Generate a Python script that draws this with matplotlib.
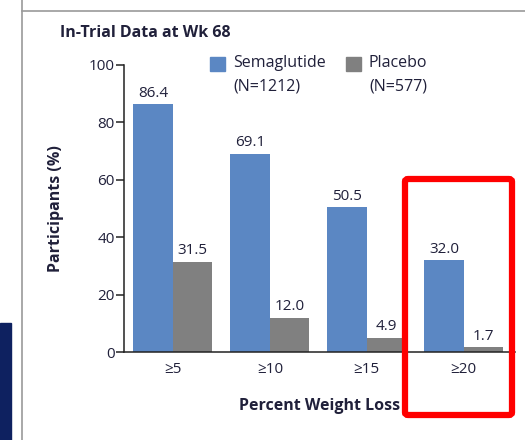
import matplotlib
matplotlib.use("Agg")
import matplotlib.pyplot as plt
from matplotlib.patches import Rectangle, FancyBboxPatch
from matplotlib.lines import Line2D
import numpy as np

categories = ["≥5", "≥10", "≥15", "≥20"]
semaglutide = [86.4, 69.1, 50.5, 32.0]
placebo = [31.5, 12.0, 4.9, 1.7]
sema_label = "Semaglutide\n(N=1212)"
plac_label = "Placebo\n(N=577)"
yticks = [0, 20, 40, 60, 80, 100]

plt.rcParams['font.family'] = ['Open Sans', 'DejaVu Sans']
txt = '#20203a'
blue = '#5b87c3'
gray = '#808080'

W, H = 525, 440
fig = plt.figure(figsize=(W/100, H/100), dpi=100)
fig.patch.set_facecolor('white')

def fx(px): return px / W
def fy(py): return 1 - py / H

ax = fig.add_axes([fx(124), fy(352), fx(515) - fx(124), fy(65) - fy(352)])
x = np.arange(len(categories))
bw = 0.407
b1 = ax.bar(x - bw/2, semaglutide, bw, color=blue, label=sema_label)
b2 = ax.bar(x + bw/2, placebo, bw, color=gray, label=plac_label)
for bars, vals in ((b1, semaglutide), (b2, placebo)):
    for r, v in zip(bars, vals):
        ax.annotate(f"{v:.1f}", (r.get_x() + r.get_width()/2, v), xytext=(0, 2.5),
                    textcoords='offset points', ha='center', va='bottom',
                    fontsize=11, color=txt)

ax.set_xlim(-0.505, 3.53)
ax.set_ylim(0, 100)
ax.set_yticks(yticks)
ax.set_xticks(x)
ax.set_xticklabels(categories)
ax.spines['top'].set_visible(False)
ax.spines['right'].set_visible(False)
for s in ('left', 'bottom'):
    ax.spines[s].set_color('#222222')
    ax.spines[s].set_linewidth(1.1)
ax.tick_params(axis='y', direction='out', length=6, width=1.1, color='#222222',
               labelsize=11, labelcolor=txt, pad=0.5)
ax.tick_params(axis='x', length=0, labelsize=11, labelcolor=txt, pad=7)
ax.set_ylabel("Participants (%)", fontsize=11.5, fontweight='bold', color=txt, labelpad=18)
ax.set_xlabel("Percent Weight Loss", fontsize=11.5, fontweight='bold', color=txt, labelpad=15)

# legend drawn as squares + two-line labels
for (sx, col, lab) in ((210, blue, sema_label), (346, gray, plac_label)):
    fig.add_artist(Rectangle((fx(sx), fy(71)), fx(15), fy(57) - fy(71), color=col,
                             transform=fig.transFigure))
    fig.text(fx(sx + 23), fy(55), lab, fontsize=11.5, color=txt, ha='left', va='top',
             linespacing=1.65)

fig.text(fx(60), fy(33), "In-Trial Data at Wk 68", fontsize=11.5, fontweight='bold',
         color=txt, ha='left', va='center')

# panel borders and decorations
fig.add_artist(Line2D([fx(21.5), fx(21.5)], [0, 1], color='#9a9a9a', lw=1.2, transform=fig.transFigure))
fig.add_artist(Line2D([fx(21.5), 1], [fy(11.5), fy(11.5)], color='#9a9a9a', lw=1.2, transform=fig.transFigure))
fig.add_artist(Rectangle((0, 0), fx(11), fy(323), color='#0e2160', transform=fig.transFigure))
fig.add_artist(FancyBboxPatch((fx(405), fy(415)), fx(512) - fx(405), fy(179) - fy(415),
                              boxstyle='round,pad=0,rounding_size=0.006',
                              fill=False, edgecolor='#ff0000', lw=4.5, transform=fig.transFigure))

fig.savefig("out.png", dpi=100, facecolor='white')
